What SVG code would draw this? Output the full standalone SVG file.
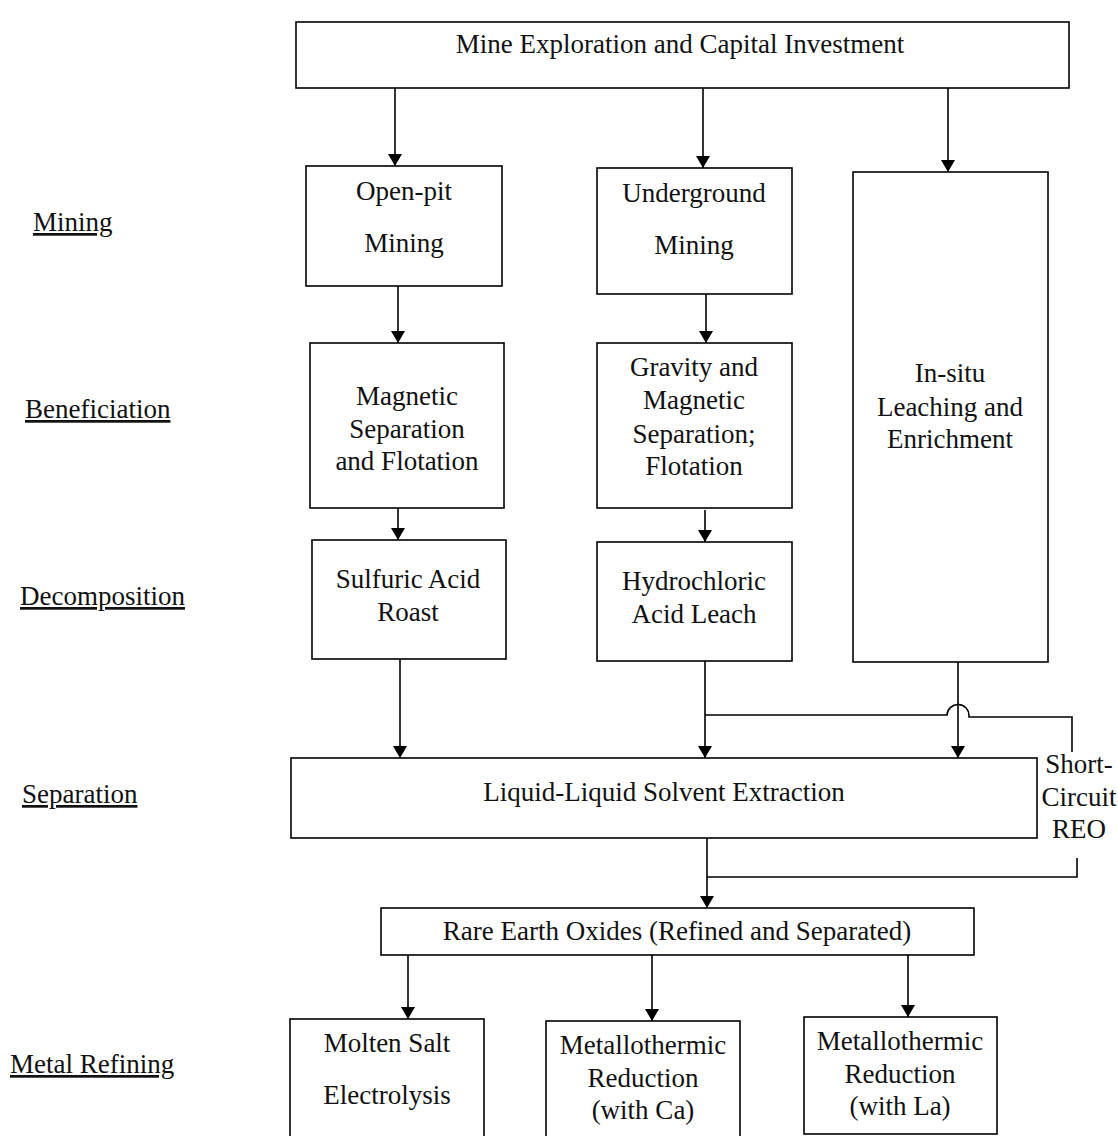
<svg xmlns="http://www.w3.org/2000/svg" width="1118" height="1136" viewBox="0 0 1118 1136">
  <style>
    .box { fill: #ffffff; stroke: #000000; stroke-width: 1.6; }
    .t { font-family: "Liberation Serif", "Times New Roman", serif; font-size: 27px; fill: #111111; text-anchor: middle; }
    .stage { font-family: "Liberation Serif", "Times New Roman", serif; font-size: 27px; fill: #111111; text-decoration: underline; }
    .wire { fill: none; stroke: #000000; stroke-width: 1.6; }
    .arrow { fill: none; stroke: #000000; stroke-width: 1.6; marker-end: url(#head); }
  </style>
  <defs>
    <marker id="head" markerWidth="12" markerHeight="14" refX="12" refY="7" orient="auto" markerUnits="userSpaceOnUse" viewBox="0 0 12 14">
      <path d="M0,0 L12,7 L0,14 Z" fill="#000000"/>
    </marker>
  </defs>
  <rect width="1118" height="1136" fill="#ffffff"/>

  <!-- Stage labels -->
  <g id="stages">
    <text class="stage" x="33" y="231">Mining</text>
    <text class="stage" x="25" y="418">Beneficiation</text>
    <text class="stage" x="20" y="605">Decomposition</text>
    <text class="stage" x="22" y="803">Separation</text>
    <text class="stage" x="10" y="1073">Metal Refining</text>
  </g>

  <!-- Connectors -->
  <g id="connectors">
    <line class="arrow" x1="395" y1="88" x2="395" y2="166"/>
    <line class="arrow" x1="703" y1="88" x2="703" y2="168"/>
    <line class="arrow" x1="948" y1="88" x2="948" y2="172"/>
    <line class="arrow" x1="398" y1="286" x2="398" y2="343"/>
    <line class="arrow" x1="706" y1="294" x2="706" y2="343"/>
    <line class="arrow" x1="398" y1="508" x2="398" y2="540"/>
    <line class="arrow" x1="705" y1="510" x2="705" y2="542"/>
    <line class="arrow" x1="400" y1="659" x2="400" y2="758"/>
    <line class="arrow" x1="705" y1="661" x2="705" y2="758"/>
    <line class="arrow" x1="958" y1="662" x2="958" y2="758"/>
    <!-- short-circuit bypass with a hop over the in-situ line -->
    <path class="wire" d="M705,715 H947 A11,11 0 0 1 969,716 V717 H1072 V752"/>
    <path class="wire" d="M1077,858 V877 H707"/>
    <line class="arrow" x1="707" y1="838" x2="707" y2="908"/>
    <line class="arrow" x1="408" y1="955" x2="408" y2="1019"/>
    <line class="arrow" x1="652" y1="955" x2="652" y2="1021"/>
    <line class="arrow" x1="908" y1="955" x2="908" y2="1017"/>
  </g>

  <g id="mine-exploration">
    <rect class="box" x="296" y="22" width="773" height="66"/>
    <text class="t" x="680" y="53">Mine Exploration and Capital Investment</text>
  </g>

  <g id="open-pit-mining">
    <rect class="box" x="306" y="166" width="196" height="120"/>
    <text class="t" x="404" y="200">Open-pit</text>
    <text class="t" x="404" y="252">Mining</text>
  </g>

  <g id="underground-mining">
    <rect class="box" x="597" y="168" width="195" height="126"/>
    <text class="t" x="694" y="202">Underground</text>
    <text class="t" x="694" y="254">Mining</text>
  </g>

  <g id="in-situ-leaching">
    <rect class="box" x="853" y="172" width="195" height="490"/>
    <text class="t" x="950" y="382">In-situ</text>
    <text class="t" x="950" y="416">Leaching and</text>
    <text class="t" x="950" y="448">Enrichment</text>
  </g>

  <g id="magnetic-separation">
    <rect class="box" x="310" y="343" width="194" height="165"/>
    <text class="t" x="407" y="405">Magnetic</text>
    <text class="t" x="407" y="438">Separation</text>
    <text class="t" x="407" y="470">and Flotation</text>
  </g>

  <g id="gravity-magnetic-separation">
    <rect class="box" x="597" y="343" width="195" height="165"/>
    <text class="t" x="694" y="376">Gravity and</text>
    <text class="t" x="694" y="409">Magnetic</text>
    <text class="t" x="694" y="443">Separation;</text>
    <text class="t" x="694" y="475">Flotation</text>
  </g>

  <g id="sulfuric-acid-roast">
    <rect class="box" x="312" y="540" width="194" height="119"/>
    <text class="t" x="408" y="588">Sulfuric Acid</text>
    <text class="t" x="408" y="621">Roast</text>
  </g>

  <g id="hydrochloric-acid-leach">
    <rect class="box" x="597" y="542" width="195" height="119"/>
    <text class="t" x="694" y="590">Hydrochloric</text>
    <text class="t" x="694" y="623">Acid Leach</text>
  </g>

  <g id="solvent-extraction">
    <rect class="box" x="291" y="758" width="746" height="80"/>
    <text class="t" x="664" y="801">Liquid-Liquid Solvent Extraction</text>
  </g>

  <g id="short-circuit-label">
    <text class="t" x="1079" y="773">Short-</text>
    <text class="t" x="1079" y="806">Circuit</text>
    <text class="t" x="1079" y="838">REO</text>
  </g>

  <g id="rare-earth-oxides">
    <rect class="box" x="381" y="908" width="593" height="47"/>
    <text class="t" x="677" y="940">Rare Earth Oxides (Refined and Separated)</text>
  </g>

  <g id="molten-salt-electrolysis">
    <rect class="box" x="290" y="1019" width="194" height="130"/>
    <text class="t" x="387" y="1052">Molten Salt</text>
    <text class="t" x="387" y="1104">Electrolysis</text>
  </g>

  <g id="reduction-ca">
    <rect class="box" x="546" y="1021" width="194" height="130"/>
    <text class="t" x="643" y="1054">Metallothermic</text>
    <text class="t" x="643" y="1087">Reduction</text>
    <text class="t" x="643" y="1119">(with Ca)</text>
  </g>

  <g id="reduction-la">
    <rect class="box" x="804" y="1017" width="193" height="117"/>
    <text class="t" x="900" y="1050">Metallothermic</text>
    <text class="t" x="900" y="1083">Reduction</text>
    <text class="t" x="900" y="1115">(with La)</text>
  </g>
</svg>
